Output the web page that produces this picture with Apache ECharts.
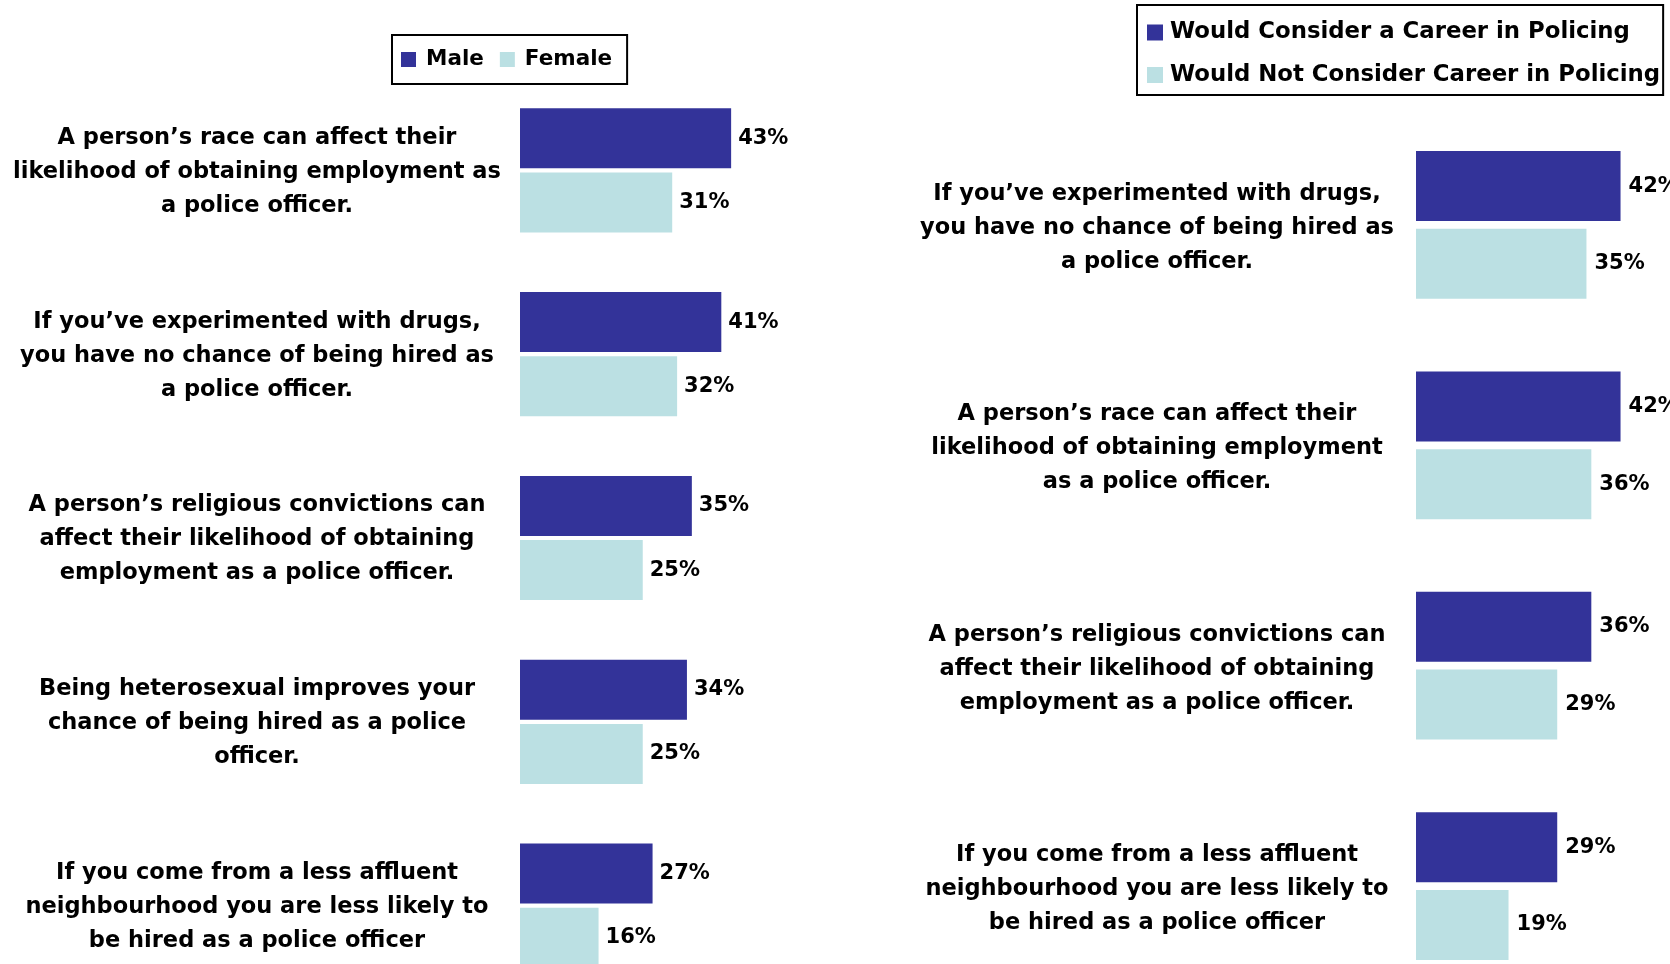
<!DOCTYPE html>
<html>
<head>
<meta charset="utf-8">
<script src="https://cdn.jsdelivr.net/npm/echarts@6/dist/echarts.min.js"></script>
<style>
  html, body { margin: 0; padding: 0; background: #fff; }
  #chart { width: 1670px; height: 964px; }
</style>
</head>
<body>
<div id="chart"></div>
<script>
// Left panel: perceptions by gender
const genderStatements = [
  'A person’s race can affect their\nlikelihood of obtaining employment as\na police officer.',
  'If you’ve experimented with drugs,\nyou have no chance of being hired as\na police officer.',
  'A person’s religious convictions can\naffect their likelihood of obtaining\nemployment as a police officer.',
  'Being heterosexual improves your\nchance of being hired as a police\nofficer.',
  'If you come from a less affluent\nneighbourhood you are less likely to\nbe hired as a police officer'
];
const maleValues = [43, 41, 35, 34, 27];
const femaleValues = [31, 32, 25, 25, 16];

// Right panel: perceptions by interest in a policing career
const careerStatements = [
  'If you’ve experimented with drugs,\nyou have no chance of being hired as\na police officer.',
  'A person’s race can affect their\nlikelihood of obtaining employment\nas a police officer.',
  'A person’s religious convictions can\naffect their likelihood of obtaining\nemployment as a police officer.',
  'If you come from a less affluent\nneighbourhood you are less likely to\nbe hired as a police officer'
];
const considerValues = [42, 42, 36, 29];
const notConsiderValues = [35, 36, 29, 19];

const DARK = '#333399';
const LIGHT = '#BBE0E3';
const FONT = '"DejaVu Sans", sans-serif';

const valueLabel = {
  show: true,
  position: 'right',
  distance: 7,
  formatter: '{c}%',
  color: '#000',
  fontFamily: FONT,
  fontWeight: 'bold',
  fontSize: 21
};

// statement labels, centred in the space left of each panel;
// a thin spacer line on top nudges the block slightly downward
const catLabel = (margin, spacer) => ({
  margin: margin,
  align: 'center',
  color: '#000',
  fontFamily: FONT,
  fontWeight: 'bold',
  fontSize: 22.5,
  lineHeight: 34,
  formatter: (value) => '{s| }\n' + value.split('\n').map((l) => '{t|' + l + '}').join('\n'),
  rich: {
    s: { fontSize: 1, lineHeight: spacer },
    t: {
      color: '#000', fontFamily: FONT, fontWeight: 'bold',
      fontSize: 22.5, lineHeight: 34, align: 'center'
    }
  }
});

const chart = echarts.init(document.getElementById('chart'), null, { renderer: 'canvas' });

chart.setOption({
  animation: false,
  backgroundColor: '#fff',
  legend: [
    {
      data: ['Male', 'Female'],
      left: 392,
      top: 35,
      orient: 'horizontal',
      itemWidth: 15,
      itemHeight: 15,
      itemGap: 16,
      padding: [12, 15, 12, 9],
      borderColor: '#000',
      borderWidth: 2,
      icon: 'rect',
      textStyle: {
        color: '#000', fontFamily: FONT, fontWeight: 'bold', fontSize: 21.5,
        lineHeight: 18, padding: [7, 0, 0, 5]
      }
    },
    {
      data: ['Would Consider a Career in Policing', 'Would Not Consider Career in Policing'],
      left: 1137,
      top: 5,
      orient: 'vertical',
      itemWidth: 16,
      itemHeight: 16,
      itemGap: 16.5,
      padding: [14.5, 3, 7, 10],
      borderColor: '#000',
      borderWidth: 2,
      icon: 'rect',
      textStyle: {
        color: '#000', fontFamily: FONT, fontWeight: 'bold', fontSize: 22.8,
        lineHeight: 26, padding: [0, 0, 0, 2]
      }
    }
  ],
  // plot areas run past the bottom edge of the page, as the panels are cropped there
  grid: [
    { left: 520, top: 78.5, width: 491, height: 919, containLabel: false, outerBoundsMode: 'none' },
    { left: 1416, top: 114.7, width: 487, height: 881.6, containLabel: false, outerBoundsMode: 'none' }
  ],
  xAxis: [
    { gridIndex: 0, type: 'value', min: 0, max: 100, show: false },
    { gridIndex: 1, type: 'value', min: 0, max: 100, show: false }
  ],
  yAxis: [
    {
      gridIndex: 0, type: 'category', data: genderStatements, inverse: true,
      axisLine: { show: false }, axisTick: { show: false }, splitLine: { show: false },
      axisLabel: catLabel(263, 3)
    },
    {
      gridIndex: 1, type: 'category', data: careerStatements, inverse: true,
      axisLine: { show: false }, axisTick: { show: false }, splitLine: { show: false },
      axisLabel: catLabel(259, 6)
    }
  ],
  series: [
    {
      name: 'Male', type: 'bar', xAxisIndex: 0, yAxisIndex: 0,
      data: maleValues, barWidth: 60, barGap: '7%',
      itemStyle: { color: DARK }, label: valueLabel
    },
    {
      name: 'Female', type: 'bar', xAxisIndex: 0, yAxisIndex: 0,
      data: femaleValues, barWidth: 60, barGap: '7%',
      itemStyle: { color: LIGHT }, label: valueLabel
    },
    {
      name: 'Would Consider a Career in Policing', type: 'bar', xAxisIndex: 1, yAxisIndex: 1,
      data: considerValues, barWidth: 70, barGap: '11%',
      itemStyle: { color: DARK }, label: Object.assign({}, valueLabel, { distance: 8 })
    },
    {
      name: 'Would Not Consider Career in Policing', type: 'bar', xAxisIndex: 1, yAxisIndex: 1,
      data: notConsiderValues, barWidth: 70, barGap: '11%',
      itemStyle: { color: LIGHT }, label: Object.assign({}, valueLabel, { distance: 8 })
    }
  ]
});
</script>
</body>
</html>
